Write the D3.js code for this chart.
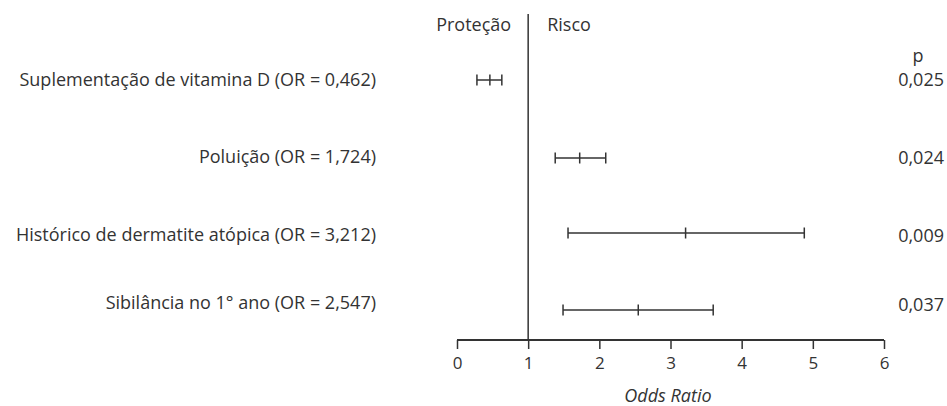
<!DOCTYPE html>
<html>
<head>
<meta charset="utf-8">
<script src="https://cdn.jsdelivr.net/npm/d3@7"></script>
<style>
  body { margin: 0; background: #fff; }
  text { font-family: "Open Sans", sans-serif; fill: #333; }
</style>
</head>
<body>
<div id="chart"></div>
<script>
var labels = [
  "Suplementação de vitamina D (OR = 0,462)",
  "Poluição (OR = 1,724)",
  "Histórico de dermatite atópica (OR = 3,212)",
  "Sibilância no 1° ano (OR = 2,547)"
];
var oddsRatio = [0.462, 1.724, 3.212, 2.547];
var ciLow = [0.28, 1.38, 1.56, 1.49];
var ciHigh = [0.63, 2.09, 4.88, 3.60];
var pValues = ["0,025", "0,024", "0,009", "0,037"];
var xTicks = [0, 1, 2, 3, 4, 5, 6];

var width = 947, height = 406;
var rowY = [80, 158, 233, 310];
var labelY = [80, 157, 235, 303];
var pY = [80, 158, 236, 305];
var fs = '18px';

var svg = d3.select('#chart').append('svg')
  .attr('width', width)
  .attr('height', height);

var x = d3.scaleLinear().domain([0, 6]).range([457, 884]);
var axisY = 340;
var ink = '#333';

// axis
var axis = svg.append('g')
  .attr('transform', 'translate(0,' + axisY + ')')
  .call(d3.axisBottom(x).tickValues(xTicks).tickSize(9).tickPadding(8).tickFormat(d3.format('d')));
axis.select('.domain').attr('stroke', ink).attr('stroke-width', 2)
  .attr('d', 'M' + x(0) + ',0H' + x(6));
axis.selectAll('.tick line').attr('stroke', ink).attr('stroke-width', 1.5);
axis.selectAll('.tick text').style('font-size', '17px').attr('fill', '#333')
  .style('font-family', '"Open Sans", sans-serif');

// reference line at OR = 1
svg.append('line')
  .attr('x1', x(1)).attr('x2', x(1))
  .attr('y1', 14).attr('y2', axisY)
  .attr('stroke', ink).attr('stroke-width', 1.5);

svg.append('text')
  .attr('x', x(1) - 17).attr('y', 25).attr('dy', '.35em')
  .style('text-anchor', 'end').style('font-size', fs)
  .text('Proteção');
svg.append('text')
  .attr('x', x(1) + 19).attr('y', 25).attr('dy', '.35em')
  .style('text-anchor', 'start').style('font-size', fs)
  .text('Risco');

svg.append('text')
  .attr('x', 668).attr('y', 396).attr('dy', '.35em')
  .style('text-anchor', 'middle').style('font-size', fs).style('font-style', 'italic')
  .text('Odds Ratio');

svg.append('text')
  .attr('x', 918).attr('y', 56).attr('dy', '.35em')
  .style('text-anchor', 'middle').style('font-size', fs)
  .text('p');

var rows = svg.selectAll('.row')
  .data(labels)
  .enter().append('g')
  .attr('class', 'row');

rows.append('text')
  .attr('x', 376)
  .attr('y', function(d, i) { return labelY[i]; })
  .attr('dy', '.35em')
  .style('text-anchor', 'end').style('font-size', fs)
  .text(function(d) { return d; });

rows.append('text')
  .attr('x', 944)
  .attr('y', function(d, i) { return pY[i]; })
  .attr('dy', '.35em')
  .style('text-anchor', 'end').style('font-size', fs)
  .text(function(d, i) { return pValues[i]; });

var cap = 5.5;
rows.append('line')
  .attr('x1', function(d, i) { return x(ciLow[i]); })
  .attr('x2', function(d, i) { return x(ciHigh[i]); })
  .attr('y1', function(d, i) { return rowY[i]; })
  .attr('y2', function(d, i) { return rowY[i]; })
  .attr('stroke', ink).attr('stroke-width', 1.5);

[ciLow, oddsRatio, ciHigh].forEach(function(arr) {
  rows.append('line')
    .attr('x1', function(d, i) { return x(arr[i]); })
    .attr('x2', function(d, i) { return x(arr[i]); })
    .attr('y1', function(d, i) { return rowY[i] - cap; })
    .attr('y2', function(d, i) { return rowY[i] + cap; })
    .attr('stroke', ink).attr('stroke-width', 1.5);
});
</script>
</body>
</html>
